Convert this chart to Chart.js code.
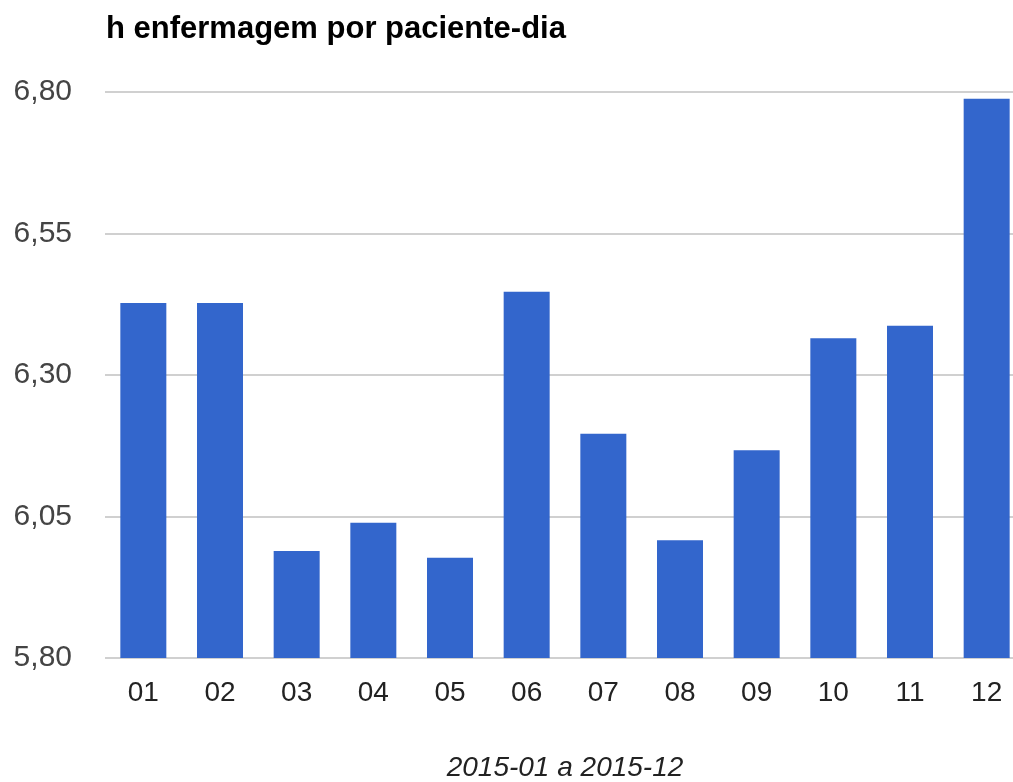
<!DOCTYPE html>
<html>
<head>
<meta charset="utf-8">
<script src="https://cdn.jsdelivr.net/npm/chart.js@4"></script>
<style>
  html, body { margin:0; padding:0; background:#fff; overflow:hidden; width:1013px; height:782px; }
  #wrap { position:relative; width:1025px; height:782px; }
</style>
</head>
<body>
<div id="wrap"><canvas id="chart"></canvas></div>
<script>
const titulo = 'h enfermagem por paciente-dia';
const tituloEixoX = '2015-01 a 2015-12';
const meses = ['01','02','03','04','05','06','07','08','09','10','11','12'];
const horas = [6.427, 6.427, 5.989, 6.039, 5.977, 6.447, 6.196, 6.008, 6.167, 6.365, 6.387, 6.788];
const yMin = 5.80, yMax = 6.80, yStep = 0.25;

const FONT = "'Liberation Sans', Arial, sans-serif";

// titulo alinhado com a area do grafico
const tituloPlugin = {
  id:'tituloPlugin',
  afterDraw(chart){
    const c = chart.ctx;
    c.save();
    c.font = 'bold 31px ' + FONT;
    c.fillStyle = '#000';
    c.textBaseline = 'alphabetic';
    c.textAlign = 'left';
    c.fillText(titulo, chart.chartArea.left + 1, 38);
    c.restore();
  }
};

new Chart(document.getElementById('chart'), {
  type:'bar',
  data:{
    labels: meses,
    datasets:[{ data: horas, backgroundColor:'#3366cc', borderWidth:0, barPercentage:1, categoryPercentage:0.6 }]
  },
  options:{
    responsive:true,
    maintainAspectRatio:false,
    animation:false,
    layout:{ padding:{ top:92, left:0, right:0, bottom:0 } },
    plugins:{ legend:{display:false}, tooltip:{enabled:false}, title:{display:false} },
    scales:{
      x:{
        grid:{ display:false, drawTicks:false },
        border:{ display:false },
        ticks:{ color:'#222', font:{ family:FONT, size:28 }, padding:18, maxRotation:0 },
        title:{ display:true, text:tituloEixoX, color:'#222', font:{ family:FONT, size:28, style:'italic', lineHeight:1.0 }, padding:{top:0,bottom:0} },
        afterFit(s){ s.height = 124; }
      },
      y:{
        min:yMin, max:yMax,
        grid:{ color:'#d0d0d0', lineWidth:2, drawTicks:false },
        border:{ display:false },
        ticks:{ stepSize:yStep, color:'#444', padding:33, font:{ family:FONT, size:30 },
          callback:(v)=> Number(v).toFixed(2).replace('.', ',') },
        afterFit(s){ s.width = 105; }
      }
    }
  },
  plugins:[tituloPlugin]
});
</script>
</body>
</html>
